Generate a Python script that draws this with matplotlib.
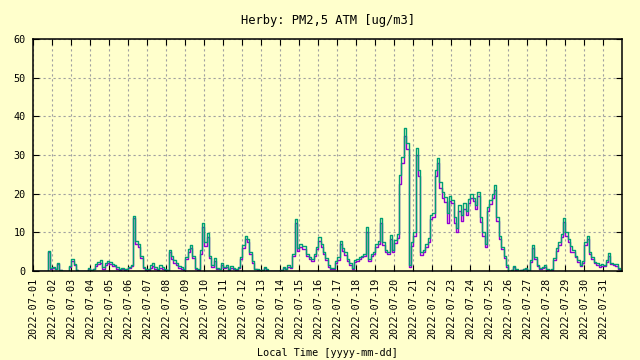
import numpy as np
import pandas as pd
import matplotlib
matplotlib.use('Agg')
import matplotlib.pyplot as plt
import matplotlib.dates as mdates

# PM2.5 [ug/m3], one row per day, readings at 00,03,06,...,21h
pm_green = [
    [0, 0, 0, 0, 0, 0, 5.2, 0.8],             # 07-01
    [1.0, 0.5, 2.2, 0.3, 0, 0, 0, 1.2],
    [3.0, 1.8, 0.3, 0, 0, 0, 0, 0.8],
    [0.3, 0.5, 1.8, 2.3, 2.8, 1.1, 2.0, 2.6],
    [2.3, 1.7, 1.6, 1.0, 0.5, 0.8, 0.4, 0.6],  # 07-05
    [1.1, 1.5, 14.2, 7.8, 7.0, 4.0, 1.0, 0.4],
    [0.5, 1.5, 2.0, 1.0, 0.5, 1.5, 1.0, 0.5],
    [0.3, 5.4, 4.0, 2.8, 2.0, 1.2, 1.0, 0.5],
    [3.7, 5.8, 6.7, 4.0, 0.8, 0.5, 5.5, 12.3],
    [7.5, 9.7, 4.0, 1.5, 3.3, 0.8, 0.6, 2.2],  # 07-10
    [1.0, 1.5, 0.5, 1.2, 0.8, 0.5, 1.0, 3.7],
    [6.8, 9.0, 8.3, 5.0, 2.7, 0.6, 0.5, 0.2],
    [0.3, 1.0, 0.5, 0, 0, 0, 0, 0],
    [0.3, 1.0, 0.6, 1.5, 1.0, 4.5, 13.5, 6.0],
    [7.0, 6.5, 6.5, 4.5, 3.5, 3.0, 4.5, 6.3],  # 07-15
    [8.7, 7.0, 5.0, 3.3, 1.5, 0.8, 0.7, 2.5],
    [3.5, 7.8, 6.0, 4.8, 3.2, 2.0, 0.8, 2.8],
    [3.0, 3.5, 4.0, 4.5, 11.5, 3.0, 4.5, 5.0],
    [7.0, 7.8, 13.8, 7.5, 5.5, 5.0, 9.3, 5.5],
    [8.0, 9.5, 24.8, 29.5, 36.9, 33.0, 1.5, 7.5],  # 07-20
    [10.0, 31.8, 26.0, 5.0, 5.5, 7.0, 8.5, 14.5],
    [15.0, 26.0, 29.1, 23.0, 20.5, 19.2, 15.0, 19.5],
    [18.3, 14.0, 11.0, 17.0, 14.5, 17.5, 15.5, 18.5],
    [20.0, 19.0, 17.0, 20.5, 14.0, 10.0, 7.0, 16.6],
    [18.3, 20.0, 22.2, 14.0, 9.0, 6.3, 4.0, 1.5],  # 07-25
    [0, 0.3, 1.3, 0.5, 0, 0.3, 0.6, 0.8],
    [0.2, 2.8, 6.7, 3.5, 1.5, 0.8, 1.0, 1.5],
    [0.5, 0.3, 0.5, 3.3, 6.0, 7.5, 9.5, 13.8],
    [10.0, 8.4, 6.5, 5.5, 4.0, 2.8, 1.5, 2.5],
    [7.6, 9.1, 5.0, 3.7, 2.4, 2.0, 1.5, 1.8],  # 07-30
    [1.5, 2.8, 4.6, 2.2, 1.9, 1.7, 0.7, 0.2],
]

pm_purple = [
    [0, 0, 0, 0, 0, 0, 4.8, 0.6],
    [0.8, 0.4, 1.9, 0.2, 0, 0, 0, 1.0],
    [2.6, 1.5, 0.2, 0, 0, 0, 0, 0.6],
    [0.2, 0.4, 1.4, 1.9, 2.2, 0.5, 1.6, 2.2],
    [1.8, 1.3, 1.2, 0.6, 0.3, 0.5, 0.2, 0.4],
    [0.8, 1.2, 13.8, 7.0, 6.2, 3.4, 0.7, 0.2],
    [0.3, 0.8, 1.2, 0.5, 0.2, 0.8, 0.6, 0.2],
    [0.2, 4.8, 3.2, 2.2, 1.5, 0.8, 0.6, 0.3],
    [3.0, 5.0, 6.0, 3.3, 0.5, 0.3, 4.5, 11.5],
    [6.5, 8.8, 3.3, 1.0, 2.6, 0.5, 0.4, 1.6],
    [0.7, 1.0, 0.3, 0.8, 0.5, 0.3, 0.7, 3.0],
    [6.0, 8.2, 7.6, 4.3, 2.2, 0.4, 0.3, 0.1],
    [0.2, 0.7, 0.3, 0, 0, 0, 0, 0],
    [0.2, 0.7, 0.4, 1.1, 0.7, 3.8, 12.5, 5.3],
    [6.2, 5.6, 5.8, 3.8, 3.0, 2.5, 3.8, 5.6],
    [7.8, 6.2, 4.4, 2.8, 1.1, 0.5, 0.5, 2.0],
    [2.9, 7.0, 5.3, 4.2, 2.7, 1.6, 0.5, 2.3],
    [2.5, 3.0, 3.5, 3.9, 10.0, 2.5, 4.0, 4.4],
    [6.2, 7.0, 12.5, 6.8, 4.9, 4.4, 8.3, 4.9],
    [7.2, 8.5, 22.5, 28.0, 35.0, 31.5, 1.0, 6.5],
    [9.0, 30.0, 24.5, 4.2, 4.8, 6.2, 7.6, 13.5],
    [14.0, 24.5, 28.0, 21.5, 19.0, 17.8, 12.3, 18.0],
    [17.5, 12.5, 10.0, 15.5, 13.0, 16.0, 14.5, 17.5],
    [19.0, 18.0, 16.0, 19.5, 12.8, 9.0, 6.3, 15.5],
    [17.2, 19.0, 21.0, 13.0, 8.2, 5.6, 3.4, 1.0],
    [0, 0.2, 1.0, 0.3, 0, 0.2, 0.4, 0.6],
    [0.1, 2.3, 6.0, 3.0, 1.2, 0.5, 0.7, 1.1],
    [0.3, 0.2, 0.3, 2.8, 5.3, 6.8, 8.7, 12.8],
    [9.0, 7.5, 5.0, 4.8, 3.5, 2.3, 1.2, 2.0],
    [6.8, 8.3, 4.4, 3.2, 2.0, 1.6, 1.1, 1.4],
    [1.2, 2.4, 4.0, 1.8, 1.5, 1.3, 0.5, 0.1],
]

green = np.array(pm_green, dtype=float).ravel()
purple = np.array(pm_purple, dtype=float).ravel()
times = pd.date_range('2022-07-01', periods=len(green), freq='3h')
days = pd.date_range('2022-07-01', '2022-07-31', freq='D')

bg = '#ffffcc'
plt.rcParams['font.family'] = 'DejaVu Sans Mono'
plt.rcParams['font.size'] = 7.3

fig = plt.figure(figsize=(6.4, 3.6), dpi=100, facecolor=bg)
ax = fig.add_axes([0.052, 0.2472, 0.9203, 0.6445], facecolor=bg)

ax.step(times, purple, where='post', color='#9400d3', lw=1.0)
ax.step(times, green, where='post', color='#009e73', lw=1.0)

ax.set_xlim(pd.Timestamp('2022-07-01'), pd.Timestamp('2022-08-01'))
ax.set_ylim(0, 60)
ax.set_yticks(range(0, 61, 10))
ax.set_xticks(days)
ax.xaxis.set_major_formatter(mdates.DateFormatter('%Y-%m-%d'))
ax.tick_params(axis='x', rotation=90, direction='in', top=True, length=4, pad=5)
ax.tick_params(axis='y', direction='in', right=True, length=4, pad=5.5)

ax.grid(True, color='#a0a0a0', linestyle=(0, (2, 2.5)), lw=0.8)
for s in ax.spines.values():
    s.set_linewidth(1.1)

ax.set_title('Herby: PM2,5 ATM [ug/m3]', pad=10.5)
ax.set_xlabel('Local Time [yyyy-mm-dd]', labelpad=6)

fig.savefig('out.png', dpi=100, facecolor=bg)
